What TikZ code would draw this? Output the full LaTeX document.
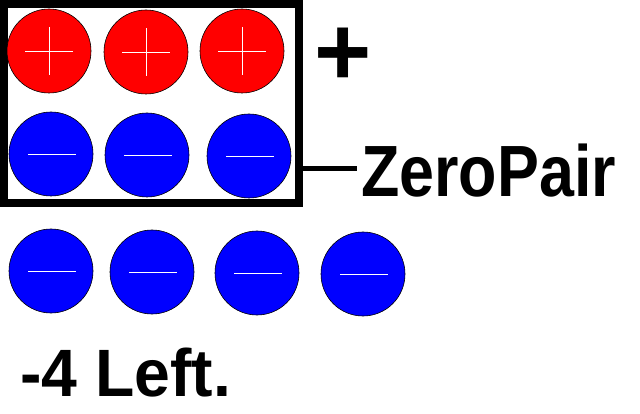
\documentclass[tikz,border=0pt]{standalone}
\usepackage{fontspec}
\setmainfont{Liberation Sans}
\begin{document}
\begin{tikzpicture}[x=1pt,y=-1pt,
  chip/.style={circle, draw=black, line width=0.6pt, minimum size=84pt, inner sep=0pt},
  poschip/.style={chip, fill=red, path picture={
      \draw[white, line width=0.9pt] ([xshift=-24pt]path picture bounding box.center) -- ([xshift=24pt]path picture bounding box.center);
      \draw[white, line width=0.9pt] ([yshift=-24pt]path picture bounding box.center) -- ([yshift=24pt]path picture bounding box.center);}},
  negchip/.style={chip, fill=blue, path picture={
      \draw[white, line width=0.9pt] ([xshift=-23pt]path picture bounding box.center) -- ([xshift=25pt]path picture bounding box.center);}},
  lbl/.style={inner sep=0pt, font=\bfseries}
]
\useasboundingbox[fill=white] (0,0) rectangle (640,414);
% frame
\node[draw, line width=8pt, minimum width=295pt, minimum height=199pt, inner sep=0pt] (box) at (151.5,103.5) {};
% red chips
\node[poschip] (r1) at (49,51) {};
\node[poschip] (r2) at (146,52) {};
\node[poschip] (r3) at (242,51) {};
% blue chips inside
\node[negchip] (b1) at (51,154) {};
\node[negchip] (b2) at (147,155) {};
\node[negchip] (b3) at (249,156) {};
% blue chips below
\node[negchip] (c1) at (51,271) {};
\node[negchip] (c2) at (152,272) {};
\node[negchip] (c3) at (257,273) {};
\node[negchip] (c4) at (363,274) {};
% labels
\node[lbl, font=\fontsize{98}{98}\bfseries, anchor=center] (plus) at (343,57) {+};
\node[lbl, anchor=base west, xscale=0.865, font=\fontsize{72.6}{72.6}\bfseries] (zp) at (361,197) {ZeroPair};
\node[lbl, anchor=base west, xscale=0.96, font=\fontsize{67}{67}\bfseries] (left) at (20,396) {-4 Left.};
% connector
\coordinate (lev) at (0,169);
\draw[line width=5pt] (box.east |- lev) -- ([xshift=-4pt]zp.west |- lev);
\end{tikzpicture}
\end{document}
